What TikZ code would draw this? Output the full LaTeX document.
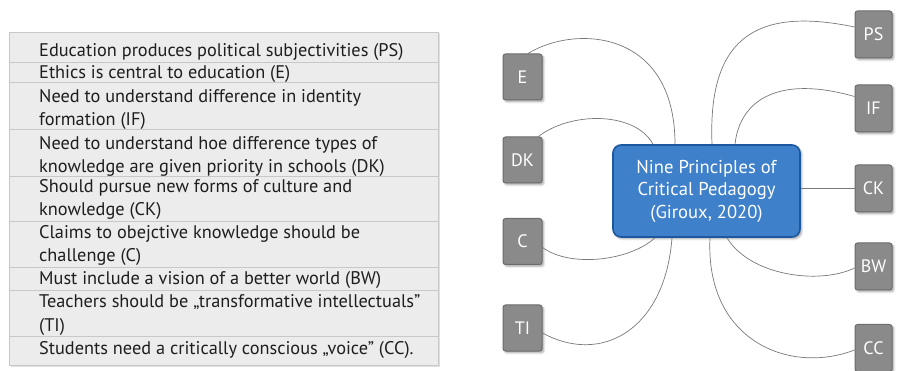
\documentclass[tikz,border=0pt]{standalone}
\usepackage{fontspec}
\setmainfont{PT Sans}
\usetikzlibrary{shadows.blur}

\definecolor{tablefill}{RGB}{236,236,236}
\definecolor{tablerule}{RGB}{200,200,200}
\definecolor{tabletext}{RGB}{30,30,30}
\definecolor{keyfill}{RGB}{138,138,138}
\definecolor{keyedge}{RGB}{108,108,108}
\definecolor{hubfill}{RGB}{62,128,201}
\definecolor{hubedge}{RGB}{28,88,160}
\definecolor{wire}{RGB}{120,120,120}

\tikzset{
  rowtext/.style={anchor=base west, inner sep=0pt, text=tabletext,
    font=\fontsize{18.3}{22.7}\selectfont},
  keybox/.style={draw=keyedge, fill=keyfill, line width=1pt, rounded corners=2.5pt,
    text=white, font=\fontsize{18}{20}\selectfont, inner sep=0pt,
    blur shadow={shadow xshift=1.8pt, shadow yshift=-1.8pt, shadow blur steps=4, shadow opacity=35}},
  leftkey/.style={keybox, minimum width=39pt, minimum height=46pt},
  rightkey/.style={keybox, minimum width=37pt, minimum height=47pt},
  hub/.style={draw=hubedge, fill=hubfill, line width=1.6pt, rounded corners=8pt,
    text=white, align=center, minimum width=187pt, minimum height=92pt,
    font=\fontsize{18.6}{22.5}\selectfont,
    blur shadow={shadow xshift=1.8pt, shadow yshift=-1.8pt, shadow blur steps=4, shadow opacity=35}},
  link/.style={draw=wire, line width=0.7pt},
}

\begin{document}
\begin{tikzpicture}[x=1pt, y=-1pt]
\useasboundingbox (0,0) rectangle (897,371);

% ---- list of principles ----
\fill[black!12] (10.5,33.5) rectangle (439.5,366.5);
\draw[tablerule, fill=tablefill] (9,32) rectangle (438,365);
\foreach \yy in {62.3, 82.7, 129, 176, 221.7, 267.3, 290.7, 336.7}
  \draw[tablerule, line width=0.8pt] (9,\yy) -- (438,\yy);

\node[rowtext] (t1)  at (39,57)    {Education produces political subjectivities (PS)};
\node[rowtext] (t2)  at (39,79)    {Ethics is central to education (E)};
\node[rowtext] (t3a) at (39,102.7) {Need to understand difference in identity};
\node[rowtext] (t3b) at (39,125.2) {formation (IF)};
\node[rowtext] (t4a) at (39,150)   {Need to understand hoe difference types of};
\node[rowtext] (t4b) at (39,172.7) {knowledge are given priority in schools (DK)};
\node[rowtext] (t5a) at (39,192.7) {Should pursue new forms of culture and};
\node[rowtext] (t5b) at (39,215.5) {knowledge (CK)};
\node[rowtext] (t6a) at (39,238.5) {Claims to obejctive knowledge should be};
\node[rowtext] (t6b) at (39,261.5) {challenge (C)};
\node[rowtext] (t7)  at (39,285)   {Must include a vision of a better world (BW)};
\node[rowtext] (t8a) at (39,308)   {Teachers should be „transformative intellectuals”};
\node[rowtext] (t8b) at (39,331)   {(TI)};
\node[rowtext] (t9)  at (39,354)   {Students need a critically conscious „voice” (CC).};

% ---- mind map: hub and the nine keys ----
\node[hub] (hub) at (706.5,191) {Nine Principles of\\Critical Pedagogy\\(Giroux, 2020)};

\node[leftkey] (E)  at (522.5,77)    {E};
\node[leftkey] (DK) at (522.5,160)   {DK};
\node[leftkey] (C)  at (522.5,241.5) {C};
\node[leftkey] (TI) at (522.5,328)   {TI};

\node[rightkey] (PS) at (873.5,34.5)  {PS};
\node[rightkey] (IF) at (873.5,108.5) {IF};
\node[rightkey] (CK) at (873.5,188.5) {CK};
\node[rightkey] (BW) at (873.5,266.5) {BW};
\node[rightkey] (CC) at (873.5,348)   {CC};

% ---- connectors ----
\path[link]
  ([xshift=5.5pt]E.north) .. controls +(47,-29) and +(0,-115) .. ([xshift=-31.5pt]hub.north);
\path[link]
  ([xshift=-4pt]DK.north east) .. controls +(32,-25) and +(-18,-33) .. ([xshift=-53.5pt]hub.north);
\path[link]
  ([xshift=5.5pt]hub.north) .. controls +(-4,-100) and +(-105,-22) .. ([yshift=7.5pt]PS.west);
\path[link]
  ([xshift=28.5pt]hub.north) .. controls +(5,-45) and +(-75,-21.5) .. ([yshift=12pt]IF.west);
\path[link] (CK.west) -- (CK.west -| hub.east);
\path[link]
  ([yshift=-6pt]C.east) .. controls +(28,20.5) and +(-25,23) .. ([xshift=-51.5pt]hub.south);
\path[link]
  ([yshift=-5pt]TI.east) .. controls +(58,32) and +(-7,93) .. ([xshift=-34.5pt]hub.south);
\path[link]
  ([xshift=20.5pt]hub.south) .. controls +(23,38) and +(-35,17) .. ([yshift=-1.5pt]BW.west);
\path[link]
  ([xshift=3.5pt]hub.south) .. controls +(-5,103) and +(-65,25) .. ([yshift=-2pt]CC.west);
\end{tikzpicture}
\end{document}
